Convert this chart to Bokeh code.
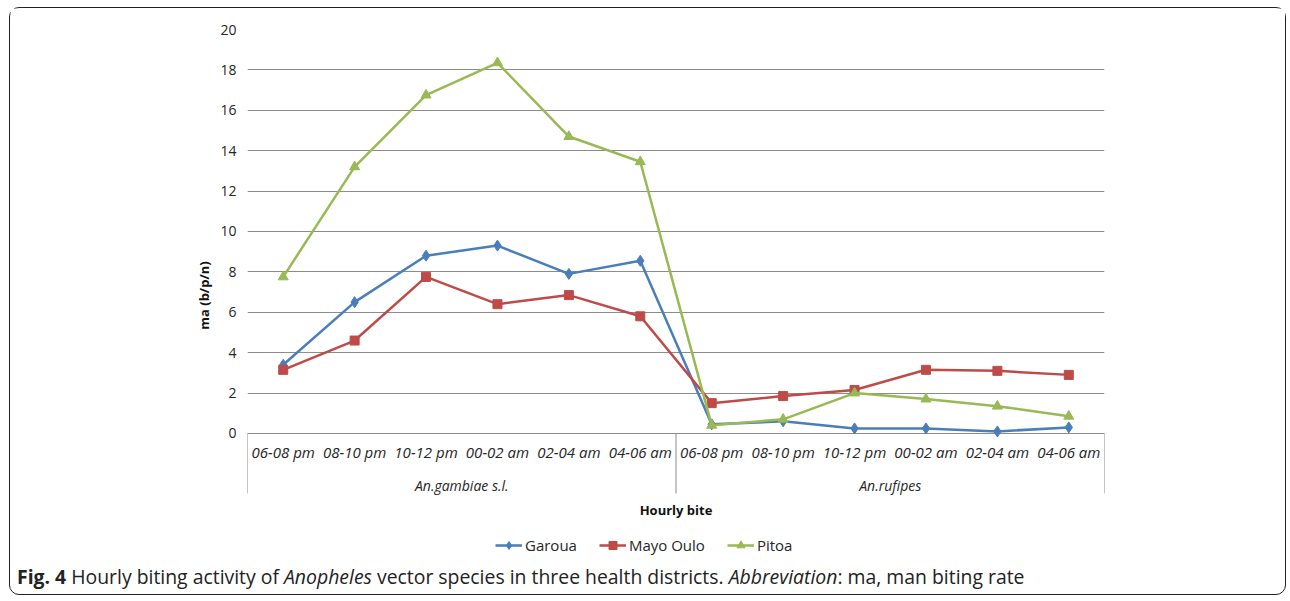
from bokeh.plotting import figure
from bokeh.models import (FactorRange, FixedTicker, Legend, LegendItem, Range1d,
                          ColumnDataSource, Div)
from bokeh.core.properties import value
from bokeh.layouts import column
from bokeh.embed import file_html
from bokeh.resources import INLINE

groups = ["An.gambiae s.l.", "An.rufipes"]
hours = ["06-08 pm", "08-10 pm", "10-12 pm", "00-02 am", "02-04 am", "04-06 am"]
garoua = [3.4, 6.5, 8.8, 9.3, 7.9, 8.55, 0.45, 0.6, 0.25, 0.25, 0.1, 0.3]
mayo_oulo = [3.15, 4.6, 7.75, 6.4, 6.85, 5.8, 1.5, 1.85, 2.15, 3.15, 3.1, 2.9]
pitoa = [7.75, 13.2, 16.75, 18.35, 14.7, 13.45, 0.4, 0.7, 2.0, 1.7, 1.35, 0.85]
y_ticks = [0, 2, 4, 6, 8, 10, 12, 14, 16, 18, 20]
x_title = "Hourly bite"
y_title = "ma (b/p/n)"

factors = [(g, h) for g in groups for h in hours]

FONT = "Open Sans"
GRID = "#8c8c8c"
TXT = "#262626"

# frame extends below the value axis to hold the category box and legend
p = figure(x_range=FactorRange(*factors, range_padding=0, group_padding=0, factor_padding=0),
           y_range=Range1d(-6.34, 20), width=1275, height=554, output_backend="svg",
           toolbar_location=None, min_border_left=237, min_border_right=181,
           min_border_top=21, min_border_bottom=1)
p.outline_line_color = None
p.xgrid.grid_line_color = None
p.xaxis.visible = False
p.ygrid.grid_line_color = GRID
p.ygrid.grid_line_width = 1
p.yaxis.ticker = FixedTicker(ticks=y_ticks)
p.yaxis.bounds = (0, 20)
p.yaxis.axis_line_color = None
p.yaxis.major_tick_line_color = None
p.yaxis.minor_tick_line_color = None
p.yaxis.major_label_text_font = FONT
p.yaxis.major_label_text_font_size = "14px"
p.yaxis.major_label_text_color = TXT
p.yaxis.major_label_standoff = 5
p.yaxis.axis_label = y_title
p.yaxis.axis_label_text_font = FONT
p.yaxis.axis_label_text_font_size = "13px"
p.yaxis.axis_label_text_font_style = "bold"
p.yaxis.axis_label_text_color = "#111111"
p.yaxis.axis_label_standoff = 4

# category axis box: vertical separators at the group edges
edges = [0]
for g in groups:
    edges.append(edges[-1] + len(hours))
p.segment(x0=edges, y0=[0] * len(edges), x1=edges, y1=[-2.97] * len(edges),
          line_color=GRID, line_width=1)

# hour labels and group labels, placed by the factor scale
p.text(x=factors, y=[0] * len(factors), text=[f[1] for f in factors],
       y_offset=19, text_align="center", text_baseline="middle",
       text_font=value(FONT), text_font_size="15px", text_font_style="italic",
       text_color=TXT)
p.text(x=groups, y=[0] * len(groups), text=groups,
       y_offset=52, text_align="center", text_baseline="middle",
       text_font=value(FONT), text_font_size="14px", text_font_style="italic",
       text_color=TXT)
p.text(x=[len(factors) / 2], y=[0], text=[x_title],
       y_offset=77, text_align="center", text_baseline="middle",
       text_font=value(FONT), text_font_size="13px", text_font_style="bold",
       text_color="#111111")

series = [("Garoua", garoua, "#4A7EBB", "diamond", 11),
          ("Mayo Oulo", mayo_oulo, "#BE4B48", "square", 9),
          ("Pitoa", pitoa, "#98B954", "triangle", 10)]
items = []
for name, vals, color, marker, size in series:
    src = ColumnDataSource(dict(x=factors, y=vals))
    lr = p.line("x", "y", source=src, line_color=color, line_width=2.5)
    sr = p.scatter("x", "y", source=src, marker=marker, size=size,
                   fill_color=color, line_color=color)
    items.append(LegendItem(label=name, renderers=[lr, sr]))

legend = Legend(items=items, orientation="horizontal", location=(248, 6),
                label_text_font=FONT, label_text_font_size="15px",
                label_text_color=TXT, border_line_color=None,
                background_fill_alpha=0, glyph_width=27, glyph_height=20,
                spacing=22, label_standoff=3, margin=0, padding=2)
p.add_layout(legend)

caption = Div(text='<b>Fig. 4</b> Hourly biting activity of <i>Anopheles</i> vector species '
                   'in three health districts. <i>Abbreviation</i>: ma, man biting rate',
              width=1275, height=32, margin=0,
              styles={"font-family": FONT, "font-size": "19.4px", "color": "#222",
                      "padding-left": "7px", "padding-top": "3px", "line-height": "24px"})

layout = column(p, caption, margin=(7, 0, 0, 9),
                styles={"border": "1.5px solid #222", "border-radius": "10px"})

open("out.html", "w").write(file_html(layout, INLINE))
